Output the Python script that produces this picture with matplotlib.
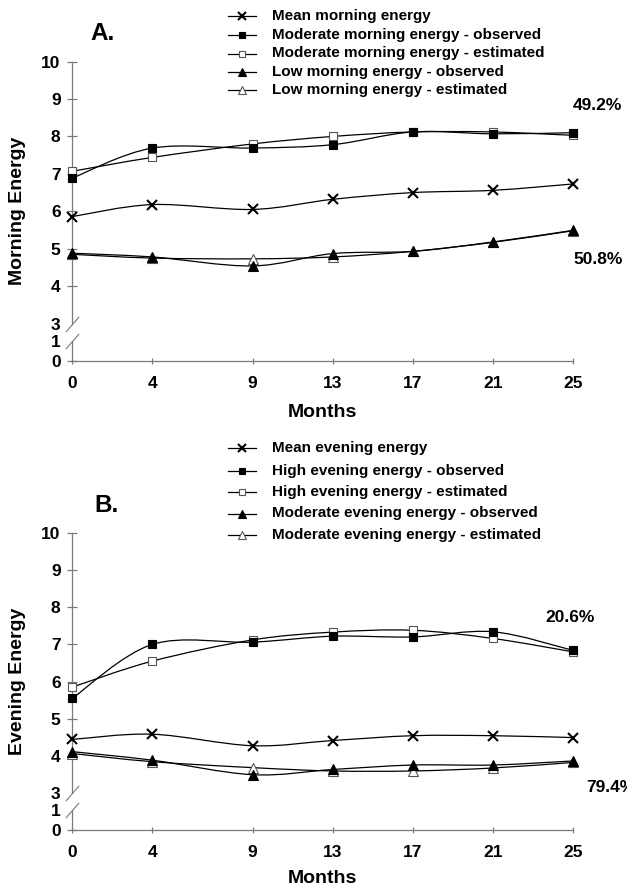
import numpy as np
import matplotlib
matplotlib.use('Agg')
import matplotlib.pyplot as plt
from matplotlib.path import Path
from matplotlib.patches import PathPatch
from matplotlib.lines import Line2D

plt.rcParams['font.family'] = ['Liberation Sans', 'DejaVu Sans']
plt.rcParams['font.weight'] = 'bold'

# Data
months = [0, 4, 9, 13, 17, 21, 25]

# Panel A - morning energy
mean_morning = [5.86, 6.18, 6.05, 6.32, 6.50, 6.56, 6.73]
mod_morning_obs = [6.89, 7.69, 7.69, 7.78, 8.12, 8.07, 8.10]
mod_morning_est = [7.07, 7.44, 7.80, 8.00, 8.12, 8.12, 8.03]
low_morning_obs = [4.88, 4.78, 4.54, 4.87, 4.93, 5.18, 5.49]
low_morning_est = [4.85, 4.75, 4.73, 4.78, 4.93, 5.17, 5.48]

# Panel B - evening energy
mean_evening = [4.44, 4.58, 4.27, 4.41, 4.54, 4.54, 4.49]
high_evening_obs = [5.55, 7.00, 7.06, 7.22, 7.20, 7.34, 6.84]
high_evening_est = [5.85, 6.55, 7.12, 7.33, 7.38, 7.16, 6.80]
mod_evening_obs = [4.11, 3.88, 3.49, 3.63, 3.75, 3.75, 3.86]
mod_evening_est = [4.06, 3.84, 3.68, 3.59, 3.59, 3.67, 3.82]

legend_a = ['Mean morning energy',
            'Moderate morning energy - observed',
            'Moderate morning energy - estimated',
            'Low morning energy - observed',
            'Low morning energy - estimated']
legend_b = ['Mean evening energy',
            'High evening energy - observed',
            'High evening energy - estimated',
            'Moderate evening energy - observed',
            'Moderate evening energy - estimated']

y_ticks = [0, 1, 3, 4, 5, 6, 7, 8, 9, 10]

axis_gray = '#7a7a7a'
open_edge = '#555555'

# marker styles: (marker, face, edge, size)
styles = [('x', 'black', 'black', 6.5),
          ('s', 'black', 'black', 5.5),
          ('s', 'white', open_edge, 5.5),
          ('^', 'black', 'black', 6.5),
          ('^', 'white', open_edge, 6.5)]

W, H = 627, 890


def fx(x):
    return x / W


def fy(y):
    return 1 - y / H


# broken y axis: 0..1 is squeezed, 1..3 is the gap
def fwd(v):
    return np.interp(v, [-10, 0, 1, 3, 10, 30], [-5, 0, 0.53, 1, 8, 28])


def inv(p):
    return np.interp(p, [-5, 0, 0.53, 1, 8, 28], [-10, 0, 1, 3, 10, 30])


def smooth_path(x, y):
    """Excel-like smoothed line through the points (cubic bezier)."""
    pts = np.column_stack([x, y]).astype(float)
    n = len(pts)
    verts = [pts[0]]
    codes = [Path.MOVETO]
    for i in range(n - 1):
        p0 = pts[max(i - 1, 0)]
        p1 = pts[i]
        p2 = pts[i + 1]
        p3 = pts[min(i + 2, n - 1)]
        verts += [p1 + (p2 - p0) / 6, p2 - (p3 - p1) / 6, p2]
        codes += [Path.CURVE4] * 3
    return Path(verts, codes)


slash = Path([(-1, -1.15), (1, 1.15)], [Path.MOVETO, Path.LINETO])


def setup_axes(rect, ylabel):
    ax = fig.add_axes(rect)
    ax.set_yscale('function', functions=(fwd, inv))
    ax.set_xlim(0, 25)
    ax.set_ylim(0, 10)
    for s in ['top', 'right', 'left']:
        ax.spines[s].set_visible(False)
    ax.spines['bottom'].set_color(axis_gray)
    ax.spines['bottom'].set_linewidth(0.9)

    # left axis drawn in two pieces with a break
    ax.plot([0, 0], [0, 1], color=axis_gray, lw=0.9, clip_on=False)
    ax.plot([0, 0], [3, 10], color=axis_gray, lw=0.9, clip_on=False)
    ax.plot([0, 0], [1, 3], linestyle='none', marker=slash, markersize=11,
            markeredgewidth=0.8, color=axis_gray, clip_on=False)

    ax.set_xticks(months)
    ax.set_yticks(y_ticks)
    ax.set_yticklabels([str(t) for t in y_ticks])
    ax.tick_params(axis='x', direction='inout', length=5, width=0.9,
                   color=axis_gray, labelsize=12.5, pad=8)
    ax.tick_params(axis='y', direction='inout', length=7, width=0.9,
                   color=axis_gray, labelsize=12.5, pad=5)
    for t, v in zip(ax.yaxis.get_major_ticks(), y_ticks):
        if v in (1, 3):
            t.tick1line.set_visible(False)
    for lab in ax.get_xticklabels() + ax.get_yticklabels():
        lab.set_fontweight('bold')

    ax.set_xlabel('Months', fontsize=14, fontweight='bold')
    ax.set_ylabel(ylabel, fontsize=14, fontweight='bold')
    ax.yaxis.set_label_coords(-0.093, 0.5)
    return ax


def draw_series(ax, series):
    for vals in series:
        ax.add_patch(PathPatch(smooth_path(months, vals), fill=False,
                               edgecolor='black', lw=0.9))
    for vals, (m, fc, ec, ms) in list(zip(series, styles))[::-1]:
        ax.plot(months, vals, linestyle='none', marker=m, markersize=ms,
                markerfacecolor=fc, markeredgecolor=ec,
                markeredgewidth=1.5 if m == 'x' else 0.8, clip_on=False, zorder=3)


def draw_legend(labels, rows):
    for lab, y, (m, fc, ec, ms) in zip(labels, rows, styles):
        fig.add_artist(Line2D([fx(228), fx(256)], [fy(y), fy(y)], color='black', lw=0.9))
        fig.add_artist(Line2D([fx(242)], [fy(y)], marker=m, markersize=ms - 0.5,
                              markerfacecolor=fc, markeredgecolor=ec,
                              markeredgewidth=1.5 if m == 'x' else 0.8))
        fig.text(fx(272), fy(y), lab, fontsize=11, fontweight='bold', va='center', ha='left')


fig = plt.figure(figsize=(W / 100, H / 100), dpi=100)
fig.patch.set_facecolor('white')

# Panel A
ax_a = setup_axes([fx(72.4), fy(361), 500.4 / W, 299.4 / H], 'Morning Energy')
ax_a.xaxis.set_label_coords(0.5, -0.145)
draw_series(ax_a, [mean_morning, mod_morning_obs, mod_morning_est,
                   low_morning_obs, low_morning_est])
draw_legend(legend_a, [16, 35, 53.5, 72, 90])
fig.text(fx(90), fy(33), 'A.', fontsize=17.5, fontweight='bold', va='center')
fig.text(fx(597), fy(105), '49.2%', fontsize=12.5, fontweight='bold', va='center', ha='center')
fig.text(fx(598), fy(259), '50.8%', fontsize=12.5, fontweight='bold', va='center', ha='center')

# Panel B
ax_b = setup_axes([fx(72.4), fy(830), 500.4 / W, 297 / H], 'Evening Energy')
ax_b.xaxis.set_label_coords(0.5, -0.135)
draw_series(ax_b, [mean_evening, high_evening_obs, high_evening_est,
                   mod_evening_obs, mod_evening_est])
draw_legend(legend_b, [448, 470.5, 492, 513.5, 534.5])
fig.text(fx(94), fy(505), 'B.', fontsize=17.5, fontweight='bold', va='center')
fig.text(fx(570), fy(617), '20.6%', fontsize=12.5, fontweight='bold', va='center', ha='center')
fig.text(fx(586), fy(788), '79.4%', fontsize=12.5, fontweight='bold', va='center', ha='left')

fig.savefig('out.png', dpi=100)
